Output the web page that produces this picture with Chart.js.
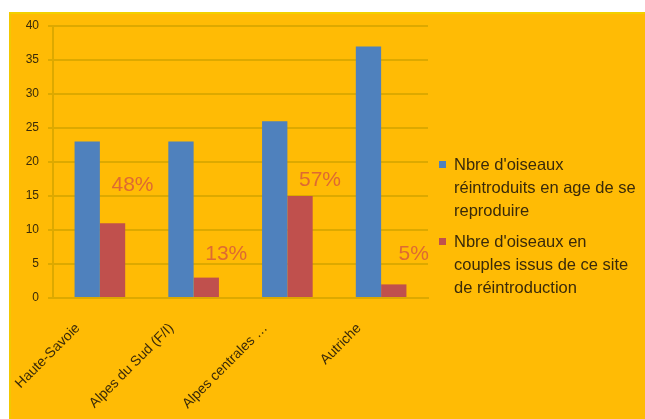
<!DOCTYPE html>
<html>
<head>
<meta charset="utf-8">
<script src="https://cdn.jsdelivr.net/npm/chart.js@4/dist/chart.umd.min.js"></script>
<style>
  html, body { margin: 0; padding: 0; background: #fff; }
  #wrap {
    position: absolute; left: 9px; top: 12px; width: 636px; height: 407px;
    background: #FFBB05; border-top: 2px solid #F2D000; border-left: 2px solid #F2C800;
    box-sizing: border-box;
  }
</style>
</head>
<body>
<div id="wrap"><canvas id="c" width="634" height="405"></canvas></div>
<script>
// Chart data
const categories = ['Haute-Savoie', 'Alpes du Sud (F/I)', 'Alpes centrales …', 'Autriche'];
const reintroduced = [23, 23, 26, 37];
const couples = [11, 3, 15, 2];
const pctLabels = ['48%', '13%', '57%', '5%'];
const pctLabelLevel = [16.6, 6.5, 17.3, 6.5];
const yTicks = [0, 5, 10, 15, 20, 25, 30, 35, 40];
const seriesNames = [
    ['Nbre d\'oiseaux', 'réintroduits en age de se', 'reproduire'],
    ['Nbre d\'oiseaux en', 'couples issus de ce site', 'de réintroduction']
];
const seriesColors = ['#4F81BD', '#C0504D'];

const GRID = '#DDA900';
const TEXT = '#3A2A0A';

// percentages drawn next to the red bars
const pctPlugin = {
    id: 'pctLabels',
    afterDatasetsDraw(chart) {
        const ctx = chart.ctx;
        const meta = chart.getDatasetMeta(1);
        const y = chart.scales.y;
        ctx.save();
        ctx.font = '21px "Liberation Sans", Arial, sans-serif';
        ctx.textAlign = 'center';
        ctx.textBaseline = 'middle';
        ctx.fillStyle = '#DE6A32';
        pctLabels.forEach((t, i) => {
            const bar = meta.data[i];
            ctx.fillText(t, bar.x + 20, y.getPixelForValue(pctLabelLevel[i]));
        });
        ctx.restore();
    }
};

// multi-line legend on the right
const legendPlugin = {
    id: 'sideLegend',
    afterDraw(chart) {
        const ctx = chart.ctx;
        ctx.save();
        ctx.font = '16.5px "Liberation Sans", Arial, sans-serif';
        ctx.textBaseline = 'middle';
        seriesNames.forEach((lines, s) => {
            const top = 151 + s * 77;
            ctx.fillStyle = seriesColors[s];
            ctx.fillRect(428, top - 4, 7, 7);
            ctx.fillStyle = TEXT;
            lines.forEach((l, k) => ctx.fillText(l, 443, top + k * 23));
        });
        ctx.restore();
    }
};

new Chart(document.getElementById('c').getContext('2d'), {
    type: 'bar',
    data: {
        labels: categories,
        datasets: [
            { label: seriesNames[0].join(' '), data: reintroduced, backgroundColor: seriesColors[0] },
            { label: seriesNames[1].join(' '), data: couples, backgroundColor: seriesColors[1] }
        ]
    },
    options: {
        responsive: false,
        animation: false,
        layout: { padding: { left: 0, right: 217, top: 12, bottom: 0 } },
        datasets: { bar: { categoryPercentage: 0.54, barPercentage: 1 } },
        plugins: {
            legend: { display: false },
            tooltip: { enabled: false }
        },
        scales: {
            x: {
                grid: { display: false, drawTicks: false },
                border: { color: GRID, width: 2 },
                ticks: {
                    color: TEXT,
                    font: { size: 14, family: '"Liberation Sans", Arial, sans-serif' },
                    minRotation: 45, maxRotation: 45,
                    padding: 22,
                    labelOffset: -22,
                    autoSkip: false
                },
                afterFit(s) { s.height = 121; s.paddingTop = 0; }
            },
            y: {
                min: 0, max: 40,
                afterBuildTicks(s) { s.ticks = yTicks.map(v => ({ value: v })); },
                grid: { color: GRID, lineWidth: 2, tickLength: 5 },
                border: { color: GRID, width: 2 },
                ticks: {
                    color: TEXT,
                    font: { size: 12, family: '"Liberation Sans", Arial, sans-serif' },
                    padding: 9
                },
                afterFit(s) { s.width = 42; s.paddingTop = 0; }
            }
        }
    },
    plugins: [pctPlugin, legendPlugin]
});
</script>
</body>
</html>
